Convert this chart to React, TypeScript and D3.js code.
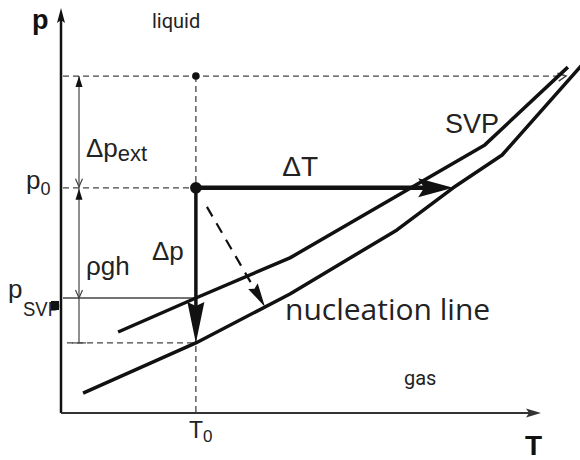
import React from 'react';
import * as d3 from 'd3';

const W = 580;
const H = 460;

// Saturated vapour pressure curve, (T, p) in arbitrary units
const svpCurve: [number, number][] = [
  [11.9, 20.0],
  [28.1, 28.4],
  [47.7, 38.3],
  [88.3, 66.2],
  [105.6, 85.4],
];

// Nucleation line, (T, p)
const nucleationCurve: [number, number][] = [
  [4.6, 4.9],
  [28.1, 17.3],
  [47.7, 29.4],
  [70.0, 45.2],
  [81.7, 55.6],
  [91.9, 63.7],
  [108.5, 85.9],
];

// Characteristic state values
const T0 = 28.1;
const pTop = 83.2;
const p0 = 55.6;
const pSVP = 28.4;
const pNuc = 17.3;
const TNuc = 81.7;

// Dashed shortest-path arrow towards the nucleation line
const shortestPath: [number, number][] = [
  [30.4, 50.9],
  [42.5, 26.2],
];

const x = d3.scaleLinear().domain([0, 100]).range([61, 541]);
const y = d3.scaleLinear().domain([0, 100]).range([413, 8]);

const line = d3
  .line<[number, number]>()
  .x((d) => x(d[0]))
  .y((d) => y(d[1]));

// Filled arrowhead with its tip at (tx, ty), pointing along (dx, dy)
function head(tx: number, ty: number, dx: number, dy: number, len: number, hw: number, notch = 0) {
  const m = Math.hypot(dx, dy);
  const ux = dx / m;
  const uy = dy / m;
  const bx = tx - ux * len;
  const by = ty - uy * len;
  const nx = -uy;
  const ny = ux;
  const cx = tx - ux * (len - notch);
  const cy = ty - uy * (len - notch);
  return `M${tx},${ty}L${bx + nx * hw},${by + ny * hw}L${cx},${cy}L${bx - nx * hw},${by - ny * hw}Z`;
}

// Open chevron arrowhead
function chevron(tx: number, ty: number, dx: number, dy: number, len: number, hw: number) {
  const m = Math.hypot(dx, dy);
  const ux = dx / m;
  const uy = dy / m;
  const bx = tx - ux * len;
  const by = ty - uy * len;
  return `M${bx - uy * hw},${by + ux * hw}L${tx},${ty}L${bx + uy * hw},${by - ux * hw}`;
}

export default function App() {
  const xT0 = x(T0);
  const yTop = y(pTop);
  const yP0 = y(p0);
  const ySVP = y(pSVP);
  const yNuc = y(pNuc);
  const x0 = x(0);
  const y0 = y(0);
  const dimX = x0 + 18;
  const dark = '#111';
  const grey = '#444';
  const dash = '6,4';
  const sans = '"Liberation Sans", Arial, Helvetica, sans-serif';

  const [s0, s1] = shortestPath;
  const sx0 = x(s0[0]);
  const sy0 = y(s0[1]);
  const sx1 = x(s1[0]);
  const sy1 = y(s1[1]);
  const sLen = Math.hypot(sx1 - sx0, sy1 - sy0);
  const sHead = 24;
  const sbx = sx1 - ((sx1 - sx0) / sLen) * sHead;
  const sby = sy1 - ((sy1 - sy0) / sLen) * sHead;

  const xNuc = x(TNuc);
  const hHead = 35;
  const vHead = 41;

  return (
    <svg
      width={W}
      height={H}
      viewBox={`0 0 ${W} ${H}`}
      style={{ position: 'absolute', left: 0, top: 0, background: '#fff' }}
    >
      <rect width={W} height={H} fill="#fff" />

      {/* axes */}
      <line x1={x0} y1={y0} x2={x0} y2={16} stroke={dark} strokeWidth={2.5} />
      <path d={head(x0, 8, 0, -1, 15, 4, 3)} fill={dark} />
      <line x1={x0} y1={y0} x2={x(100) - 10} y2={y0} stroke="#333" strokeWidth={2.2} />
      <path d={head(x(100), y0, 1, 0, 15, 4.5, 3)} fill="#333" />
      <text x={32} y={29} fontFamily={sans} fontWeight="bold" fontSize={27} fill={dark}>p</text>
      <text x={525} y={455} fontFamily={sans} fontWeight="bold" fontSize={28} fill={dark}>T</text>

      {/* reference lines */}
      <line x1={x0 + 2} y1={yTop} x2={561} y2={yTop} stroke={grey} strokeWidth={1.3} strokeDasharray={dash} />
      <path d={chevron(566, yTop, 1, -0.15, 8, 4)} fill="none" stroke={grey} strokeWidth={1.5} />
      <line x1={x0 + 2} y1={yP0} x2={xT0} y2={yP0} stroke={grey} strokeWidth={1.3} strokeDasharray={dash} />
      <line x1={x0 + 2} y1={ySVP} x2={xT0} y2={ySVP} stroke={grey} strokeWidth={1.3} />
      <line x1={x0 + 6} y1={yNuc} x2={xT0} y2={yNuc} stroke={grey} strokeWidth={1.3} strokeDasharray={dash} />
      <line x1={xT0} y1={yTop} x2={xT0} y2={y0} stroke={grey} strokeWidth={1.3} strokeDasharray={dash} />

      {/* pressure dimension arrows */}
      <line x1={dimX} y1={yTop} x2={dimX} y2={yNuc} stroke={grey} strokeWidth={1.2} />
      <path d={head(dimX, yTop, 0, -1, 11, 3.5)} fill={dark} />
      <path d={chevron(dimX, yP0 - 1, 0, 1, 8, 3.5)} fill="none" stroke={grey} strokeWidth={1.2} />
      <path d={head(dimX, yP0 + 1, 0, -1, 11, 3.5)} fill={dark} />
      <path d={chevron(dimX, ySVP, 0, 1, 8, 3.5)} fill="none" stroke={grey} strokeWidth={1.2} />
      <line x1={dimX - 7} y1={yNuc} x2={dimX + 7} y2={yNuc} stroke={grey} strokeWidth={1.2} />

      {/* phase curves */}
      <path d={line(svpCurve) ?? ''} fill="none" stroke={dark} strokeWidth={3.5} strokeLinejoin="round" />
      <path d={line(nucleationCurve) ?? ''} fill="none" stroke={dark} strokeWidth={3.5} strokeLinejoin="round" />

      {/* isobaric heating arrow */}
      <line x1={xT0} y1={yP0} x2={xNuc - hHead + 6} y2={yP0} stroke={dark} strokeWidth={4.5} />
      <path d={head(xNuc, yP0, 1, 0, hHead, 9.5, 6)} fill={dark} />

      {/* isothermal decompression arrow */}
      <line x1={xT0} y1={yP0} x2={xT0} y2={yNuc - vHead + 4} stroke={dark} strokeWidth={3.5} />
      <path d={head(xT0, yNuc, 0, 1, vHead, 8.5, 4)} fill={dark} />

      {/* shortest path to the nucleation line */}
      <line x1={sx0} y1={sy0} x2={sbx} y2={sby} stroke={dark} strokeWidth={2.2} strokeDasharray="11,8" />
      <path d={head(sx1, sy1, sx1 - sx0, sy1 - sy0, sHead, 5.5, 3)} fill={dark} />

      {/* states */}
      <circle cx={xT0} cy={yTop} r={3.8} fill={dark} />
      <circle cx={xT0} cy={yP0} r={5.8} fill={dark} />

      {/* labels */}
      <text x={152} y={28} fontFamily="Roboto, sans-serif" fontSize={20} fill="#222">liquid</text>
      <text x={404} y={385} fontFamily="Roboto, sans-serif" fontSize={20} fill="#222">gas</text>
      <text x={86} y={157} fontFamily={sans} fontSize={26} fill="#222">
        Δp<tspan fontSize={22} dy={4}>ext</tspan>
      </text>
      <text x={26} y={189} fontFamily={sans} fontSize={26} fill="#222">
        p<tspan fontSize={18} dy={6}>0</tspan>
      </text>
      <text x={318} y={176} textAnchor="end" fontFamily={sans} fontSize={28} fill="#222">ΔT</text>
      <text x={445} y={133} fontFamily={sans} fontSize={27} fill="#222">SVP</text>
      <text x={152} y={260} fontFamily={sans} fontSize={26} fill="#222">Δp</text>
      <text x={86} y={275} fontFamily={sans} fontSize={26} fill="#222">ρgh</text>
      <text x={8} y={298} fontFamily={sans} fontSize={26} fill="#222">p</text>
      <text x={23} y={316} fontFamily={sans} fontSize={21} fill="#222" textLength={37} lengthAdjust="spacingAndGlyphs">SVP</text>
      <rect x={51} y={ySVP + 3} width={8} height={9} fill={dark} />
      <text x={285} y={320} fontFamily='"Open Sans", sans-serif' fontSize={30} fill="#222">nucleation line</text>
      <text x={189} y={438} fontFamily={sans} fontSize={23} fill="#222">
        T<tspan fontSize={17} dy={4}>0</tspan>
      </text>
    </svg>
  );
}
